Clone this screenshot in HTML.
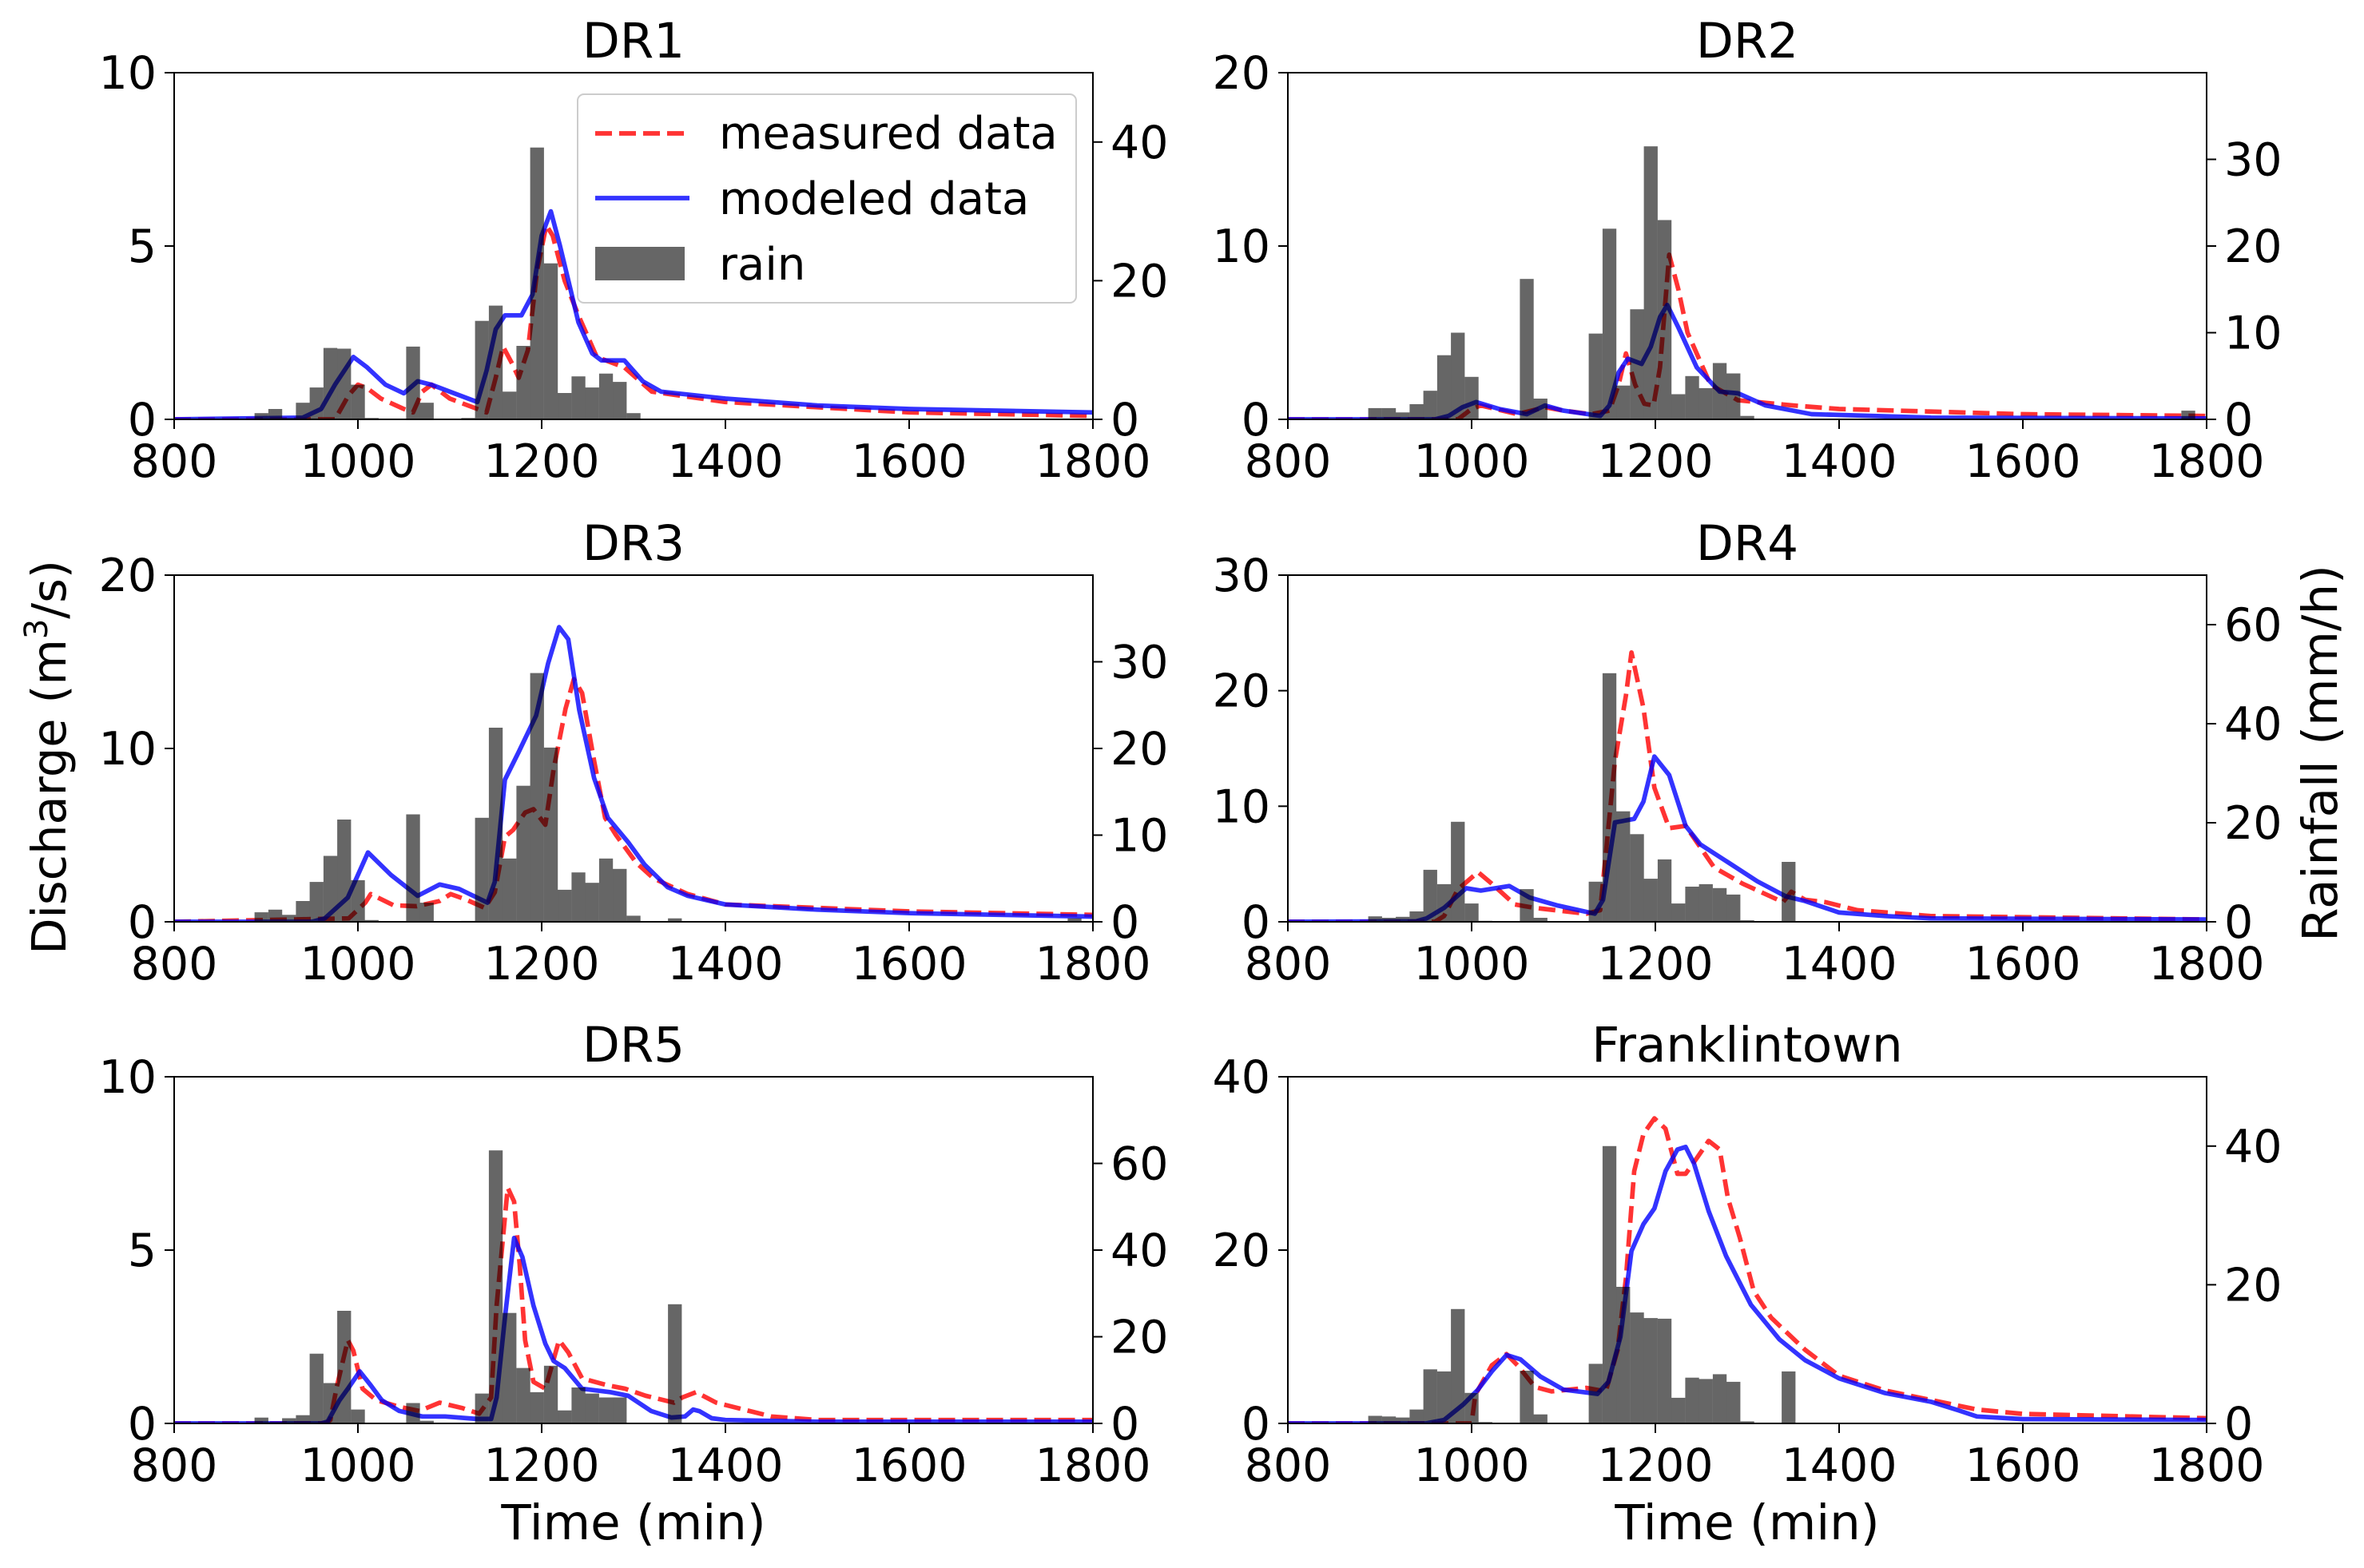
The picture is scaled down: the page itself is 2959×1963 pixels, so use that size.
<!DOCTYPE html>
<html><head><meta charset="utf-8"><title>Discharge and rainfall</title>
<style>
html,body{margin:0;padding:0;background:#fff;}
svg{display:block;font-family:"DejaVu Sans","Liberation Sans",sans-serif;}
</style></head>
<body>
<svg id="chart" xmlns="http://www.w3.org/2000/svg" width="2959" height="1963" viewBox="0 0 2959 1963">
<rect x="0" y="0" width="2959" height="1963" fill="#fff"/>
</svg>
<script>
// ---------- data ----------
const xTicks = [800, 1000, 1200, 1400, 1600, 1800];
const rainBinWidth = 15;

const dr1RainT = [887.5,902.5,917.5,932.5,947.5,962.5,977.5,992.5,1007.5,1052.5,1067.5,1112.5,1127.5,1142.5,1157.5,1172.5,1187.5,1202.5,1217.5,1232.5,1247.5,1262.5,1277.5,1292.5];
const dr1RainV = [0.9,1.5,0.2,2.4,4.6,10.3,10.2,5,0.2,10.5,2.4,0.2,14.2,16.4,4,10.6,39.2,22.5,3.8,6.2,4.6,6.6,5.4,0.9];
const dr1ModT = [800,940,960,975,995,1010,1030,1050,1065,1080,1100,1130,1140,1150,1160,1178,1190,1200,1210,1220,1240,1255,1265,1290,1310,1330,1400,1500,1600,1800];
const dr1ModQ = [0,0.05,0.3,1.0,1.8,1.5,1.0,0.75,1.1,1.0,0.8,0.5,1.4,2.6,3.0,3.0,3.6,5.3,6.0,5.0,2.8,1.9,1.7,1.7,1.1,0.8,0.6,0.4,0.3,0.2];
const dr1MeasT = [800,975,990,1000,1010,1025,1050,1060,1070,1080,1100,1130,1140,1150,1158,1168,1175,1185,1195,1205,1212,1225,1240,1260,1290,1320,1400,1600,1800];
const dr1MeasQ = [0,0,0.7,1.0,0.9,0.6,0.3,0.2,0.8,1.0,0.6,0.3,0.2,1.2,2.1,1.6,1.2,2.0,4.3,5.6,5.3,4.0,3.0,1.8,1.5,0.8,0.5,0.2,0.1];

const dr2RainT = [887.5,902.5,917.5,932.5,947.5,962.5,977.5,992.5,1052.5,1067.5,1127.5,1142.5,1157.5,1172.5,1187.5,1202.5,1217.5,1232.5,1247.5,1262.5,1277.5,1292.5,1772.5];
const dr2RainV = [1.3,1.3,0.8,1.75,3.3,7.4,10,4.9,16.2,2.4,9.9,22,3.9,12.7,31.5,23,2.9,5,3.6,6.5,5.3,0.4,1];
const dr2ModT = [800,960,975,990,1005,1030,1060,1080,1100,1140,1150,1160,1170,1185,1195,1205,1213,1225,1245,1270,1290,1320,1370,1500,1800];
const dr2ModQ = [0,0,0.2,0.7,1.0,0.6,0.3,0.8,0.5,0.2,0.8,2.7,3.5,3.2,4.2,5.9,6.6,5.3,3.0,1.6,1.5,0.8,0.3,0.1,0.05];
const dr2MeasT = [800,985,1000,1010,1050,1080,1100,1130,1150,1160,1168,1178,1188,1198,1205,1215,1225,1235,1260,1290,1350,1400,1600,1800];
const dr2MeasQ = [0,0,0.6,0.8,0.3,0.7,0.5,0.3,0.5,2.0,3.8,2.0,0.9,0.8,3.0,9.5,7.5,5.0,2.0,1.1,0.8,0.6,0.3,0.2];

const dr3RainT = [887.5,902.5,917.5,932.5,947.5,962.5,977.5,992.5,1007.5,1052.5,1067.5,1112.5,1127.5,1142.5,1157.5,1172.5,1187.5,1202.5,1217.5,1232.5,1247.5,1262.5,1277.5,1292.5,1337.5,1772.5];
const dr3RainV = [1.1,1.4,0.8,2.4,4.6,7.6,11.8,4.8,0.2,12.4,2.2,0.1,12,22.4,7.3,15.7,28.7,20.1,3.7,5.7,4.5,7.3,6.1,0.7,0.4,0.4];
const dr3ModT = [800,950,964,989,1011,1036,1065,1089,1110,1141,1149,1160,1175,1194,1207,1219,1229,1241,1257,1272,1294,1312,1337,1359,1400,1500,1600,1800];
const dr3ModQ = [0,0,0.2,1.4,4.0,2.7,1.5,2.15,1.9,1.1,2.3,8.2,9.8,11.9,14.9,17,16.3,12.2,8.3,6,4.6,3.3,2,1.5,1.0,0.7,0.5,0.3];
const dr3MeasT = [800,990,1008,1014,1039,1064,1089,1101,1117,1138,1149,1160,1169,1182,1191,1204,1213,1226,1235,1244,1257,1269,1281,1303,1322,1359,1400,1500,1600,1800];
const dr3MeasQ = [0,0.2,1.1,1.6,0.95,0.9,1.2,1.6,1.3,0.8,1.7,4.9,5.3,6.3,6.5,5.6,8.8,12.3,14,13.2,9.3,6,5,3.4,2.5,1.6,1.0,0.8,0.6,0.4];

const dr4RainT = [887.5,902.5,917.5,932.5,947.5,962.5,977.5,992.5,1007.5,1052.5,1067.5,1127.5,1142.5,1157.5,1172.5,1187.5,1202.5,1217.5,1232.5,1247.5,1262.5,1277.5,1292.5,1337.5];
const dr4RainV = [1.1,0.8,1.0,2.1,10.5,7.6,20.2,3.7,0.2,6.6,0.8,8.1,50.2,22.3,17.7,8.7,12.6,3.7,7.1,7.6,6.8,5.5,0.3,12.1];
const dr4ModT = [800,940,951,970,994,1010,1041,1063,1094,1134,1143,1156,1177,1187,1199,1215,1233,1249,1280,1311,1342,1363,1400,1450,1500,1800];
const dr4ModQ = [0,0.05,0.3,1.2,2.9,2.7,3.1,2.1,1.4,0.7,1.9,8.6,8.9,10.4,14.3,12.7,8.3,6.7,5.1,3.5,2.2,1.8,0.8,0.5,0.3,0.2];
const dr4MeasT = [800,960,970,985,1007,1022,1047,1069,1125,1140,1156,1168,1174,1187,1199,1215,1233,1264,1295,1339,1348,1363,1385,1420,1500,1800];
const dr4MeasQ = [0,0,0.5,2.8,4.3,3.3,1.5,1.2,0.7,1.0,13.9,19.6,23.3,18.5,11.6,8.1,8.3,4.7,3.3,1.7,2.6,1.9,1.7,1.0,0.5,0.2];

const dr5RainT = [887.5,902.5,917.5,932.5,947.5,962.5,977.5,992.5,1052.5,1067.5,1127.5,1142.5,1157.5,1172.5,1187.5,1202.5,1217.5,1232.5,1247.5,1262.5,1277.5,1337.5];
const dr5RainV = [1.35,0.3,1.2,1.9,16.1,9.3,26,3.2,4.7,0.6,6.9,63,25.5,12.8,7.2,13.3,3,8.3,6.9,6,6,27.5];
const dr5ModT = [800,960,967,980,989,1002,1014,1026,1045,1070,1095,1129,1145,1151,1160,1170,1179,1191,1204,1213,1225,1244,1275,1294,1319,1341,1356,1365,1372,1385,1400,1500,1800];
const dr5ModQ = [0,0,0.05,0.67,1.0,1.5,1.1,0.67,0.36,0.2,0.2,0.13,0.13,0.75,3.05,5.35,4.8,3.4,2.3,1.8,1.6,1.0,0.9,0.8,0.36,0.17,0.2,0.4,0.35,0.15,0.1,0.05,0.05];
const dr5MeasT = [800,965,970,977,989,995,1005,1020,1045,1067,1089,1114,1132,1145,1151,1163,1170,1176,1182,1191,1204,1219,1229,1244,1272,1291,1313,1344,1353,1368,1390,1450,1500,1800];
const dr5MeasQ = [0,0,0.1,1.05,2.4,2.1,1.0,0.67,0.48,0.36,0.6,0.44,0.28,0.75,3.4,6.8,6.4,4.6,2.4,1.2,1.0,2.4,2.05,1.3,1.1,1.0,0.8,0.6,0.75,0.9,0.6,0.2,0.1,0.1];

const frRainT = [887.5,902.5,917.5,932.5,947.5,962.5,977.5,992.5,1007.5,1052.5,1067.5,1127.5,1142.5,1157.5,1172.5,1187.5,1202.5,1217.5,1232.5,1247.5,1262.5,1277.5,1292.5,1337.5];
const frRainV = [1.1,1.0,0.85,2,7.8,7.5,16.5,4.4,0.2,7.6,1.3,8.6,40,19.7,16,15.2,15.1,3.7,6.6,6.4,7.1,6,0.3,7.5];
const frModT = [800,950,970,991,1007,1022,1038,1053,1075,1100,1137,1149,1162,1174,1187,1199,1211,1224,1233,1242,1258,1277,1304,1335,1363,1400,1450,1500,1530,1550,1600,1800];
const frModQ = [0,0,0.4,2.2,3.9,6,7.9,7.4,5.4,3.9,3.4,4.8,10,19.9,23,24.8,29.1,31.6,31.9,30,24.5,19.3,13.7,9.7,7.3,5.2,3.5,2.5,1.5,0.8,0.5,0.4];
const frMeasT = [800,1000,1004,1022,1038,1050,1069,1087,1125,1146,1159,1168,1177,1187,1199,1211,1224,1233,1245,1258,1270,1279,1292,1307,1326,1363,1400,1450,1500,1550,1600,1800];
const frMeasQ = [0,0,3.3,6.7,8,6.7,4.2,3.7,4.1,3.7,8.5,16.8,29.1,33.4,35.2,34,28.8,28.8,30.6,32.6,31.6,26,21.4,15.3,12.2,8.5,5.5,3.8,2.7,1.6,1.1,0.6];

const panelTitles = ["DR1","DR2","DR3","DR4","DR5","Franklintown"];
const leftMax = [10,20,20,30,10,40];
const leftTicks = [[0,5,10],[0,10,20],[0,10,20],[0,10,20,30],[0,5,10],[0,20,40]];
const rightMax = [50,40,40,70,80,50];
const rightTicks = [[0,20,40],[0,10,20,30],[0,10,20,30],[0,20,40,60],[0,20,40,60],[0,20,40]];
const rainT = [dr1RainT,dr2RainT,dr3RainT,dr4RainT,dr5RainT,frRainT];
const rainV = [dr1RainV,dr2RainV,dr3RainV,dr4RainV,dr5RainV,frRainV];
const modT = [dr1ModT,dr2ModT,dr3ModT,dr4ModT,dr5ModT,frModT];
const modQ = [dr1ModQ,dr2ModQ,dr3ModQ,dr4ModQ,dr5ModQ,frModQ];
const measT = [dr1MeasT,dr2MeasT,dr3MeasT,dr4MeasT,dr5MeasT,frMeasT];
const measQ = [dr1MeasQ,dr2MeasQ,dr3MeasQ,dr4MeasQ,dr5MeasQ,frMeasQ];

// ---------- layout ----------
const NS = "http://www.w3.org/2000/svg";
const svg = document.getElementById('chart');
const colX0 = [218, 1612], colW = 1150;
const rowY0 = [91, 720, 1348], rowH = 434;
const FS = 57, FT = 61;

function mk(tag, attrs, parent) {
  const e = document.createElementNS(NS, tag);
  for (const k in attrs) e.setAttribute(k, attrs[k]);
  (parent || svg).appendChild(e);
  return e;
}

const defs = mk('defs', {});

for (let p = 0; p < 6; p++) {
  const col = p % 2, row = Math.floor(p / 2);
  const x0 = colX0[col], y0 = rowY0[row], x1 = x0 + colW, y1 = y0 + rowH;
  const sx = t => x0 + (t - 800) / 1000 * colW;
  const syL = v => y1 - v / leftMax[p] * rowH;
  const syR = v => y1 - v / rightMax[p] * rowH;

  const g = mk('g', {});
  
  

  const cp = mk('clipPath', {id: 'clip' + p}, defs);
  mk('rect', {x: x0, y: y0, width: colW, height: rowH}, cp);

  const plot = mk('g', {'clip-path': 'url(#clip' + p + ')'}, g);
  
  

  let d = measT[p].map((t, i) => (i ? 'L' : 'M') + sx(t).toFixed(1) + ' ' + syL(measQ[p][i]).toFixed(1)).join(' ');
  const meas = mk('path', {d: d, fill: 'none', stroke: '#ff0000', 'stroke-opacity': 0.8, 'stroke-width': 5.7, 'stroke-dasharray': '21 9', 'stroke-linejoin': 'round'}, plot);
  
  

  d = modT[p].map((t, i) => (i ? 'L' : 'M') + sx(t).toFixed(1) + ' ' + syL(modQ[p][i]).toFixed(1)).join(' ');
  const mod = mk('path', {d: d, fill: 'none', stroke: '#0000ff', 'stroke-opacity': 0.8, 'stroke-width': 5.7, 'stroke-linejoin': 'round'}, plot);
  
  

  rainT[p].forEach((t, i) => {
    const bx = sx(t), bw = sx(t + rainBinWidth) - bx, by = syR(rainV[p][i]);
    const b = mk('rect', {x: bx.toFixed(1), y: by.toFixed(1), width: bw.toFixed(1), height: (y1 - by).toFixed(1), fill: '#000', 'fill-opacity': 0.6}, plot);
    
    
  });

  const fr = mk('rect', {x: x0, y: y0, width: colW, height: rowH, fill: 'none', stroke: '#000', 'stroke-width': 2}, g);
  
  

  xTicks.forEach(t => {
    const x = sx(t);
    const tk = mk('line', {x1: x, y1: y1, x2: x, y2: y1 + 12, stroke: '#000', 'stroke-width': 2}, g);
    
    
    const tl = mk('text', {x: x, y: y1 + 72, 'text-anchor': 'middle', 'font-size': FS}, g);
    tl.textContent = t;
    
    
  });
  leftTicks[p].forEach(v => {
    const y = syL(v);
    const tk = mk('line', {x1: x0 - 12, y1: y, x2: x0, y2: y, stroke: '#000', 'stroke-width': 2}, g);
    
    
    const tl = mk('text', {x: x0 - 22, y: y + 20, 'text-anchor': 'end', 'font-size': FS}, g);
    tl.textContent = v;
    
    
  });
  rightTicks[p].forEach(v => {
    const y = syR(v);
    const tk = mk('line', {x1: x1, y1: y, x2: x1 + 12, y2: y, stroke: '#000', 'stroke-width': 2}, g);
    
    
    const tl = mk('text', {x: x1 + 22, y: y + 20, 'text-anchor': 'start', 'font-size': FS}, g);
    tl.textContent = v;
    
    
  });
  const tt = mk('text', {x: x0 + colW / 2, y: y0 - 19, 'text-anchor': 'middle', 'font-size': FT}, g);
  tt.textContent = panelTitles[p];
  
  
}

const xl1 = mk('text', {x: colX0[0] + colW / 2, y: 1927, 'text-anchor': 'middle', 'font-size': FT});
xl1.textContent = 'Time (min)';


const xl2 = mk('text', {x: colX0[1] + colW / 2, y: 1927, 'text-anchor': 'middle', 'font-size': FT});
xl2.textContent = 'Time (min)';



const yl = mk('text', {x: 0, y: 0, 'text-anchor': 'middle', 'font-size': 59, transform: 'translate(82,948) rotate(-90)'});


yl.appendChild(document.createTextNode('Discharge (m'));
const sup = mk('tspan', {'font-size': 40, dy: -23}, yl);
sup.textContent = '3';
const rest = mk('tspan', {dy: 23}, yl);
rest.textContent = '/s)';

const rl = mk('text', {x: 0, y: 0, 'text-anchor': 'middle', 'font-size': FT, transform: 'translate(2925,943) rotate(-90)'});
rl.textContent = 'Rainfall (mm/h)';



const lg = mk('g', {});


mk('rect', {x: 723, y: 118, width: 624, height: 261, rx: 8, fill: '#fff', 'fill-opacity': 0.8, stroke: '#cccccc', 'stroke-width': 2}, lg);
const le1 = mk('g', {}, lg);


mk('line', {x1: 745, y1: 167, x2: 863, y2: 167, stroke: '#ff0000', 'stroke-opacity': 0.8, 'stroke-width': 5.7, 'stroke-dasharray': '21 9'}, le1);
const lt1 = mk('text', {x: 900, y: 186, 'font-size': 56}, le1);
lt1.textContent = 'measured data';
const le2 = mk('g', {}, lg);


mk('line', {x1: 745, y1: 248, x2: 863, y2: 248, stroke: '#0000ff', 'stroke-opacity': 0.8, 'stroke-width': 5.7}, le2);
const lt2 = mk('text', {x: 900, y: 268, 'font-size': 56}, le2);
lt2.textContent = 'modeled data';
const le3 = mk('g', {}, lg);


mk('rect', {x: 745, y: 309, width: 112, height: 42, fill: '#000', 'fill-opacity': 0.6}, le3);
const lt3 = mk('text', {x: 900, y: 350, 'font-size': 56}, le3);
lt3.textContent = 'rain';
</script>
</body></html>
